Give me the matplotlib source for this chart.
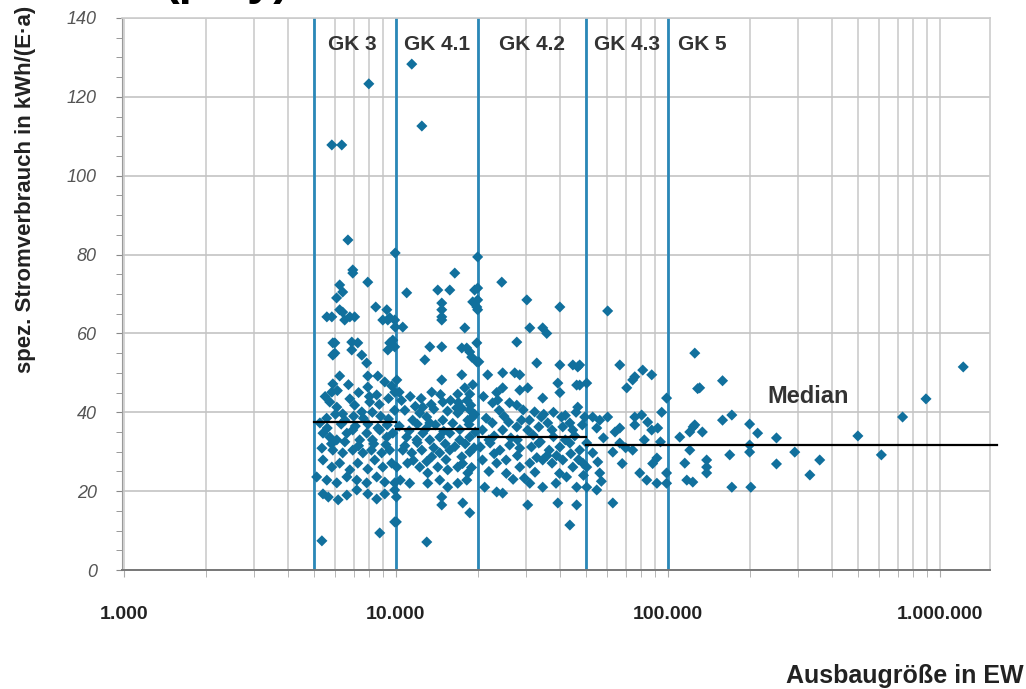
import matplotlib.pyplot as plt
import matplotlib.ticker as ticker
import numpy as np

gk3_x = [5820, 6330, 7960, 6670, 6950, 6950, 7890, 6220, 6060, 6380, 8440, 9270,
         5580, 5820, 6780, 7060, 6220, 6380, 6490, 9500, 9910, 8960, 9350, 9950,
         5970, 5970, 6890, 7250, 6890, 7500, 7820, 9500, 9350, 5870, 5870,
         6220, 5870, 5820, 7890, 8590, 7890, 8510, 8020, 9110, 9660, 9910,
         5720, 6070, 6380, 6780, 7060, 7500, 5260,
         5400, 5720, 6070, 6610, 6950, 7370, 7820, 8210, 8730, 9270, 9750,
         5350, 5870, 6380, 6950, 7570, 8140, 8880, 9500,
         5400, 5820, 6220, 6780, 7250, 7890, 8370, 8960, 9660,
         5120, 5580, 6070, 6610, 7190, 7820, 8510, 9110, 9910,
         5400, 5650, 6140, 6610, 7190, 7890, 8510, 9110, 9910,
         5570, 6000, 6500, 7000, 7600, 8200, 8800, 9400, 9900,
         8730, 5350, 9910, 9750, 9910, 9950,
         5500, 6100, 6700, 7300, 8000, 8700, 9400, 5600, 6300, 7100, 7900, 8600,
         9300, 5800, 6500, 7300, 8300, 9200]
gk3_y = [107.8, 107.8, 123.3, 83.7, 76.1, 75.3, 73.0, 72.3, 69.0, 70.5, 66.7, 66.0,
         64.2, 64.2, 64.2, 64.2, 66.0, 65.4, 63.4, 64.0, 63.4, 63.4, 63.4, 61.6,
         57.6, 55.0, 57.8, 57.6, 55.8, 54.5, 52.5, 57.6, 55.8, 57.6, 54.5,
         49.2, 47.2, 45.1, 49.2, 49.2, 46.4, 44.4, 42.6, 47.7, 46.7, 45.1,
         42.6, 41.3, 39.6, 43.4, 41.8, 40.1, 37.3,
         34.7, 33.7, 33.0, 34.7, 35.5, 33.0, 34.7, 33.0, 35.5, 33.7, 34.7,
         30.9, 30.4, 29.7, 30.4, 29.7, 30.4, 29.7, 30.4,
         27.9, 26.1, 27.1, 25.4, 27.1, 25.6, 27.9, 26.1, 27.1,
         23.6, 22.8, 22.1, 23.6, 22.8, 22.1, 23.6, 22.3, 22.1,
         19.3, 18.5, 17.8, 19.0, 20.3, 19.3, 18.0, 19.3, 20.3,
         38.5, 39.5, 38.0, 39.0, 38.5, 40.0, 39.0, 38.3, 40.5,
         9.4, 7.4, 12.2, 58.3, 56.6, 80.4,
         44.0, 45.5, 47.0, 45.0, 44.0, 42.0, 43.5, 36.0, 37.0, 36.5, 37.0, 36.0,
         36.8, 32.0, 32.5, 31.5, 32.0, 31.8]

gk41_x = [11450, 12470, 16480, 10970, 14270, 15800, 14760, 14760, 14760, 14760,
          19500, 19180, 19860, 10610, 17940, 13340, 14760, 12790, 18240, 18710,
          17490, 19020, 14760, 13560, 17490, 17940, 16900, 18710, 10090, 10290,
          14890, 12570, 18870, 16750, 19860, 19860, 18710, 19180,
          11540, 12250, 13000, 13340, 14890, 16900, 18400,
          10800, 11800, 13800, 15500, 17500, 19500,
          10970, 11950, 12570, 13340, 14510, 15800, 17190, 18710,
          10610, 11450, 12470, 13560, 14510, 15800, 17490, 18710,
          10090, 11050, 12250, 13110, 14270, 15520, 16900, 18400,
          10390, 11250, 13110, 14510, 15520, 16900, 18240,
          14760, 14760, 17630, 18710, 10050, 10050, 13000,
          10300, 11200, 12000, 12900, 14000, 15000, 16200, 17200, 18600, 19600,
          10800, 12000, 13800, 15200, 16500, 18000, 19400,
          10500, 11300, 12400, 13500, 14600, 15900, 17000, 18300, 19200,
          11600, 13000, 15300, 17600, 19000]
gk41_y = [128.3, 112.6, 75.3, 70.3, 71.0, 71.0, 67.7, 66.0, 64.2, 63.4,
          71.0, 68.0, 66.7, 61.6, 61.4, 56.6, 56.6, 53.3, 56.3, 55.3,
          56.3, 54.0, 48.2, 45.1, 49.5, 46.2, 44.6, 44.6, 48.2, 45.1,
          42.6, 41.3, 41.8, 41.1, 52.8, 57.6, 40.6, 38.8,
          38.0, 39.8, 38.8, 37.3, 38.0, 39.8, 38.0,
          40.5, 41.5, 40.8, 40.3, 41.0, 39.5,
          33.7, 33.0, 34.7, 33.0, 33.7, 34.7, 33.0, 33.7,
          30.4, 29.7, 30.4, 28.7, 29.7, 30.4, 28.7, 29.9,
          26.1, 27.1, 26.1, 24.6, 26.1, 25.4, 26.1, 24.6,
          22.8, 22.0, 22.0, 22.8, 21.0, 22.0, 22.8,
          18.5, 16.5, 17.0, 14.5, 18.5, 12.2, 7.1,
          36.5, 35.3, 37.0, 35.8, 36.8, 35.2, 37.2, 35.6, 36.9, 35.0,
          31.5, 32.3, 31.0, 32.0, 31.3, 32.0, 31.0,
          43.0, 44.0, 43.5, 42.0, 44.5, 43.0, 42.5, 43.0, 47.0,
          27.8, 27.5, 28.0, 27.0, 26.0]

gk42_x = [20000, 20000, 20000, 20000, 24530, 30330, 40110, 31100, 34690, 35900,
          27860, 20200, 32990, 40110, 44780, 46670, 47440,
          21780, 24720, 27380, 28570,
          23500, 24720, 28570, 30560, 34690, 39430, 40110, 46250, 47440,
          22700, 23700, 26200, 27860, 29400, 32400, 34300, 36200, 40700, 43650, 46670, 49500,
          20830, 22640, 24720, 27860, 30560, 33560, 37550, 41120, 44780,
          20460, 22230, 24160, 26220, 28570, 31540, 33560, 36630, 40110, 43650, 47440,
          20830, 23500, 25460, 28570, 31100, 34690, 37550, 41120, 44780, 48740,
          21230, 23500, 24720, 29700, 31100, 34690, 38830, 42450, 46250,
          30560, 39430, 46250, 43650,
          21500, 23000, 25000, 26500, 29000, 32000, 35000, 38000, 42000, 45500, 48500,
          22000, 25500, 28000, 32500, 36000, 40000, 44000, 49000,
          21000, 22000, 24000, 26000, 28000, 31000, 34000, 38000, 42000, 46000,
          23000, 27000, 33000, 39000, 47000]
gk42_y = [79.4, 71.5, 68.5, 66.0, 73.0, 68.5, 66.7, 61.4, 61.4, 60.0,
          57.8, 52.8, 52.5, 52.0, 52.0, 51.5, 52.0,
          49.5, 50.0, 50.0, 49.5,
          45.0, 46.2, 45.6, 46.2, 43.6, 47.4, 45.0, 46.9, 46.9,
          42.4, 43.1, 42.4, 41.8, 40.6, 40.1, 38.8, 37.3, 38.8, 37.3, 41.3, 38.8,
          35.5, 37.3, 35.5, 36.3, 35.5, 36.3, 35.5, 36.3, 35.5,
          31.2, 32.2, 30.4, 31.7, 30.9, 31.2, 32.2, 30.4, 31.2, 32.2, 30.4,
          27.9, 27.1, 27.9, 26.1, 27.1, 27.9, 27.1, 27.9, 26.1, 27.1,
          21.0, 19.8, 19.5, 23.3, 22.0, 21.0, 22.0, 23.6, 21.0,
          16.5, 17.0, 16.5, 11.4,
          38.5, 34.0, 39.0, 33.5, 38.0, 34.2, 39.5, 33.8, 39.2, 34.0, 36.8,
          25.0, 24.5, 29.0, 24.8, 29.0, 24.5, 29.5, 24.0,
          44.0, 33.0, 40.5, 37.5, 33.0, 38.0, 32.5, 40.0, 33.0, 40.0,
          29.5, 23.0, 28.5, 29.0, 28.0]

gk43_x = [60120, 66620, 75640, 80910, 87300, 74300, 70660, 99000, 50350, 95000,
          52970, 56230, 60120, 54810, 66620, 75640, 80170, 75640, 84370, 87300, 91840,
          62800, 91200, 66620, 74300, 50350, 52970, 55300, 50350, 56230,
          78890, 83730, 91200, 99000, 99000, 50350, 54810, 62800,
          58000, 64000, 70000, 82000, 94000, 57000, 68000, 88000]
gk43_y = [65.7, 52.0, 49.0, 50.7, 49.5, 48.2, 46.2, 43.6, 47.4, 40.0,
          38.8, 38.0, 38.8, 36.0, 36.0, 38.8, 39.3, 36.8, 37.5, 35.5, 36.0,
          29.9, 28.4, 32.2, 30.4, 32.2, 29.7, 27.4, 26.1, 24.6,
          24.6, 22.8, 22.0, 24.6, 22.0, 21.0, 20.3, 17.0,
          33.5, 35.0, 31.0, 33.0, 32.5, 22.5, 27.0, 27.0]

gk5_x = [125700, 128800, 125700, 110700, 120500, 120500, 115500, 117500, 123600,
         131000, 159000, 159000, 172000, 200000, 214000, 251000, 293000, 362000,
         333000, 251000, 200000, 200000, 169000, 172000, 202000, 139000, 139000,
         139000, 124000, 134000, 500000, 610000, 730000, 890000, 1220000]
gk5_y = [55.0, 46.0, 36.8, 33.7, 35.0, 30.4, 27.1, 22.8, 22.3,
         46.2, 48.0, 38.0, 39.3, 37.0, 34.7, 33.5, 29.9, 27.9,
         24.1, 26.9, 31.7, 29.9, 29.2, 21.0, 21.0, 27.9, 26.1,
         24.6, 36.3, 35.0, 34.0, 29.2, 38.8, 43.4, 51.5]

# Groessenklassen
gk_bounds = [5000, 10000, 20000, 50000, 100000]
gk_names = ['GK 3', 'GK 4.1', 'GK 4.2', 'GK 4.3', 'GK 5']
gk_label_x = [6900, 14200, 31700, 70700, 134500]

# Median je Klasse (GK 4.3 und GK 5 zusammen)
median_from = [5000, 10000, 20000, 50000]
median_to = [10000, 20000, 50000, 1.62e6]
median_val = [37.6, 35.8, 33.7, 31.7]

blue = '#11709d'
line_blue = '#2a88b8'

fig = plt.figure(figsize=(10.26, 6.89), dpi=100)
ax = fig.add_axes([0.1189, 0.1727, 0.846, 0.8012])

xs = gk3_x + gk41_x + gk42_x + gk43_x + gk5_x
ys = gk3_y + gk41_y + gk42_y + gk43_y + gk5_y
ax.scatter(xs, ys, marker='D', s=32, color=blue, edgecolors='none', zorder=3)

for b in gk_bounds:
    ax.axvline(b, color=line_blue, lw=2, zorder=2)

for x0, x1, m in zip(median_from, median_to, median_val):
    ax.plot([x0, x1], [m, m], color='black', lw=1.6, zorder=4, clip_on=False)

for name, lx in zip(gk_names, gk_label_x):
    ax.text(lx, 133.4, name, ha='center', va='center', fontsize=15,
            fontweight='bold', color='#333333', family='Liberation Sans')
ax.text(327000, 44.1, 'Median', ha='center', va='center', fontsize=17,
        fontweight='bold', color='#333333', family='Liberation Sans')

ax.set_xscale('log')
ax.set_xlim(985, 1.53e6)
ax.set_ylim(0, 140)

ax.xaxis.set_major_locator(ticker.FixedLocator([1e3, 1e4, 1e5, 1e6]))
ax.xaxis.set_major_formatter(ticker.FixedFormatter(['1.000', '10.000', '100.000', '1.000.000']))
ax.xaxis.set_minor_locator(ticker.LogLocator(base=10, subs=np.arange(2, 10)))
ax.xaxis.set_minor_formatter(ticker.NullFormatter())
ax.yaxis.set_major_locator(ticker.MultipleLocator(20))
ax.yaxis.set_minor_locator(ticker.MultipleLocator(5))

ax.grid(True, which='both', axis='x', color='#cccccc', lw=1.2, zorder=0)
ax.grid(True, which='major', axis='y', color='#c4c4c4', lw=1.2, zorder=0)
ax.set_axisbelow(True)

ax.tick_params(axis='x', which='both', length=5, color='#aaaaaa', pad=21)
ax.tick_params(axis='y', which='both', length=4, color='#888888', pad=14)
for lab in ax.get_xticklabels():
    lab.set_family(['Liberation Sans Narrow', 'Liberation Sans'])
    lab.set_fontweight('bold')
    lab.set_fontsize(14)
    lab.set_color('#222222')
for lab in ax.get_yticklabels():
    lab.set_family('Liberation Sans')
    lab.set_fontstyle('italic')
    lab.set_fontsize(13)
    lab.set_color('#555555')

for side in ['top', 'right']:
    ax.spines[side].set_color('#cccccc')
    ax.spines[side].set_linewidth(1.2)
ax.spines['left'].set_color('#999999')
ax.spines['bottom'].set_color('#777777')
ax.spines['bottom'].set_linewidth(1.4)

ax.set_ylabel('spez. Stromverbrauch in kWh/(E·a)', fontsize=16, fontweight='bold',
              family='Liberation Sans', color='#222222')
ax.yaxis.set_label_coords(-0.099, 0.69)
fig.text(0.998, 0.019, 'Ausbaugröße in EW', ha='right', va='center', fontsize=18,
         fontweight='bold', family='Liberation Sans', color='#222222')

# abgeschnittener Titel oben (in der Vorlage nur die Unterlaengen sichtbar)
fig.text(0.159, 1.009, '(play)', ha='left', va='baseline', fontsize=34,
         fontweight='bold', family='Liberation Sans', color='black')

fig.savefig('out.png', dpi=100)
